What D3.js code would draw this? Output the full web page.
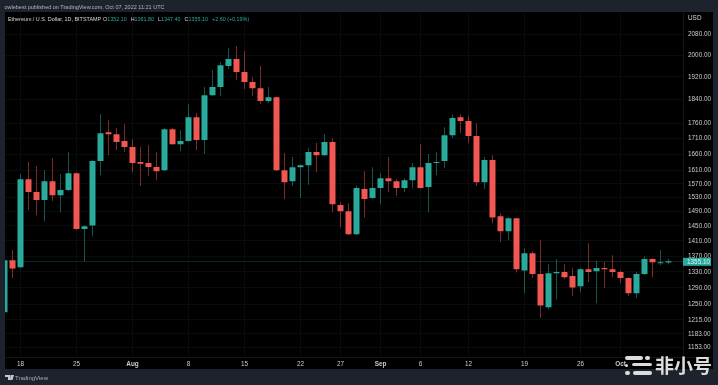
<!DOCTYPE html>
<html>
<head>
<meta charset="utf-8">
<script src="https://cdn.jsdelivr.net/npm/d3@7"></script>
<style>
  html, body { margin: 0; padding: 0; background: #1e222d; }
  svg { display: block; filter: blur(0.3px); }
  text { font-family: "Liberation Sans", sans-serif; }
</style>
</head>
<body>
<script>
// one entry per day, starting 16 Jul 2022
var startDay = Date.UTC(2022, 6, 16);
var opens = [1231,1358,1340,1582,1544,1521,1576,1535,1550,1600,1440,1450,1637,1728,1722,1700,
  1681,1634,1631,1619,1609,1738,1690,1700,1778,1703,1853,1882,1958,1984,1936,1900,1878,1833,1846,1609,1576,1618,1624,1665,1655,1697,1507,1489,1426,1553,1527,
  1556,1585,1576,1556,1579,1618,1559,1631,1637,1719,1778,1765,1716,1573,1640,1475,1434,1470,1332,1376,1323,1243,1325,1328,1318,1293,1335,1330,1338,1335,
  1328,1313,1276,1323,1361,1350,1352.1];
var highs = [1360,1384,1597,1634,1621,1609,1646,1597,1665,1603,1450,1640,1788,1768,1742,1755,
  1706,1681,1687,1665,1742,1742,1735,1822,1792,1882,1943,1972,2026,2033,2014,1918,1958,1882,1848,1662,1649,1627,1677,1694,1722,1709,1515,1512,1562,1606,1618,
  1600,1649,1582,1585,1631,1690,1659,1665,1745,1788,1788,1782,1758,1649,1655,1484,1472,1470,1389,1381,1410,1348,1361,1348,1338,1338,1402,1356,1353,1371,
  1332,1315,1328,1368,1363,1384,1361.8];
var lows = [1229,1313,1338,1492,1478,1461,1518,1486,1548,1438,1355,1421,1594,1655,1671,1665,
  1603,1562,1591,1579,1607,1688,1668,1698,1671,1659,1851,1850,1947,1907,1875,1850,1822,1826,1607,1524,1562,1527,1565,1603,1653,1486,1445,1424,1424,1472,1525,
  1509,1544,1533,1544,1556,1554,1486,1594,1615,1710,1725,1694,1562,1553,1456,1405,1410,1327,1276,1313,1218,1238,1261,1310,1269,1278,1303,1252,1288,1315,
  1300,1269,1264,1321,1315,1345,1347.4];
var closes = [1358,1337,1582,1544,1521,1576,1535,1550,1600,1440,1448,1637,1725,1722,1697,1681,
  1631,1629,1619,1606,1738,1690,1700,1778,1703,1853,1882,1961,1984,1936,1900,1878,1833,1846,1609,1573,1618,1624,1665,1655,1697,1509,1489,1426,1556,1524,1556,
  1585,1576,1556,1579,1618,1556,1631,1634,1719,1775,1765,1716,1573,1640,1472,1434,1470,1335,1376,1323,1247,1325,1328,1315,1290,1335,1328,1338,1335,1328,
  1313,1276,1323,1361,1353,1353,1355.1];

var priceTicks = [2080,2000,1920,1840,1760,1710,1660,1610,1570,1530,1490,1450,1410,1370,1330,1290,1250,1215,1183,1153];
var dateTicks = ["2022-07-18","2022-07-25","2022-08-01","2022-08-08","2022-08-15","2022-08-22","2022-08-27","2022-09-01","2022-09-06","2022-09-12","2022-09-19","2022-09-26","2022-10-01"];
var dateLabels = ["18","25","Aug","8","15","22","27","Sep","6","12","19","26","Oct"];
var headerValues = [["O","1352.10"],["H","1361.80"],["L","1347.40"],["C","1355.10"]];
var lastPrice = 1355.10;

var up = "#28ab9c", down = "#f25752";

function init() {
    var svg = d3.select("body").append("svg").attr("width", 718).attr("height", 385);

    var x = d3.scaleUtc()
        .domain([new Date("2022-07-18"), new Date("2022-10-07")])
        .range([20, 668]);
    var y = d3.scaleLog()
        .domain([2080, 1153])
        .range([34, 347]);

    function dayX(i) { return x(new Date(startDay + i * 864e5)); }

    svg.append("rect").attr("width", 718).attr("height", 385).attr("fill", "#1e222d");
    svg.append("rect").attr("x", 5).attr("y", 12).attr("width", 708).attr("height", 357).attr("fill", "#000");
    svg.append("clipPath").attr("id", "plot").append("rect")
        .attr("x", 5).attr("y", 12).attr("width", 678).attr("height", 345);

    // grid
    svg.append("g").selectAll("line").data(priceTicks).enter().append("line")
        .attr("x1", 5).attr("x2", 683)
        .attr("y1", function(d) { return Math.round(y(d)) + 0.5; })
        .attr("y2", function(d) { return Math.round(y(d)) + 0.5; })
        .attr("stroke", "#0a0b0d");
    svg.append("g").selectAll("line").data(dateTicks).enter().append("line")
        .attr("x1", function(d) { return x(new Date(d)) + 0.5; })
        .attr("x2", function(d) { return x(new Date(d)) + 0.5; })
        .attr("y1", 12).attr("y2", 357)
        .attr("stroke", "#0a0b0d");

    // axis separators
    svg.append("line").attr("x1", 683.5).attr("x2", 683.5).attr("y1", 12).attr("y2", 369).attr("stroke", "#131519");
    svg.append("line").attr("x1", 5).attr("x2", 713).attr("y1", 357.5).attr("y2", 357.5).attr("stroke", "#131519");

    // last price line
    svg.append("line").attr("x1", 5).attr("x2", 683)
        .attr("y1", Math.round(y(lastPrice)) + 0.5).attr("y2", Math.round(y(lastPrice)) + 0.5)
        .attr("stroke", up).attr("stroke-opacity", 0.22);

    // candles
    var candles = svg.append("g").attr("clip-path", "url(#plot)")
        .selectAll("g").data(opens).enter().append("g")
        .attr("fill", function(d, i) { return closes[i] >= d ? up : down; })
        .attr("stroke", function(d, i) { return closes[i] >= d ? up : down; });
    candles.append("line")
        .attr("x1", function(d, i) { return dayX(i) + 0.5; })
        .attr("x2", function(d, i) { return dayX(i) + 0.5; })
        .attr("y1", function(d, i) { return y(highs[i]); })
        .attr("y2", function(d, i) { return y(lows[i]); })
        .attr("stroke-opacity", 0.5);
    candles.append("rect")
        .attr("x", function(d, i) { return dayX(i) - 2.5; })
        .attr("width", 6)
        .attr("y", function(d, i) { return y(Math.max(d, closes[i])); })
        .attr("height", function(d, i) { return Math.max(1, Math.abs(y(d) - y(closes[i]))); })
        .attr("rx", 0.5)
        .attr("stroke", "none");

    // price axis
    svg.append("g").selectAll("text").data(priceTicks).enter().append("text")
        .attr("x", 688)
        .attr("y", function(d) { return y(d) + 2.3; })
        .attr("font-size", 6.4)
        .attr("fill", "#c9cbd0")
        .text(function(d) { return d3.format(".2f")(d); });
    svg.append("text").attr("x", 688).attr("y", 20).attr("font-size", 6.4).attr("fill", "#d4d6da").text("USD");

    // last price label
    svg.append("rect").attr("x", 683).attr("y", y(lastPrice) - 3.5).attr("width", 28).attr("height", 8).attr("fill", up);
    svg.append("text").attr("x", 687).attr("y", y(lastPrice) + 2.8).attr("font-size", 6.4).attr("fill", "#d8efec").text(d3.format(".2f")(lastPrice));

    // time axis
    svg.append("g").selectAll("text").data(dateTicks).enter().append("text")
        .attr("x", function(d) { return x(new Date(d)) + 0.5; })
        .attr("y", 366)
        .attr("text-anchor", "middle")
        .attr("font-size", 6.4)
        .attr("font-weight", function(d, i) { return isNaN(+dateLabels[i]) ? "bold" : "normal"; })
        .attr("fill", "#c9cbd0")
        .text(function(d, i) { return dateLabels[i]; });

    // header lines
    svg.append("text").attr("x", 4.5).attr("y", 9).attr("font-size", 5.5).attr("fill", "#b4b7be")
        .text("owlebest published on TradingView.com, Oct 07, 2022 11:21 UTC");
    svg.append("text").attr("x", 8).attr("y", 21).attr("font-size", 5.4).attr("fill", "#d6d8dc")
        .text("Ethereum / U.S. Dollar, 1D, BITSTAMP");
    var head = svg.append("text").attr("x", 103).attr("y", 21).attr("font-size", 5.4).attr("fill", "#d6d8dc");
    headerValues.forEach(function(v, i) {
        head.append("tspan").attr("dx", i ? 4 : 0).attr("fill", "#d6d8dc").text(v[0]);
        head.append("tspan").attr("fill", up).text(v[1]);
    });
    head.append("tspan").attr("dx", 4).attr("fill", up).text("+2.60 (+0.19%)");

    // footer logo
    svg.append("path").attr("d", "M5 375h5v5h-2v-3h-3z M10.5 375h2l-1.5 5h-1z M12 375h2l-1.5 5h-1.5z").attr("fill", "#c4c7cd");
    svg.append("text").attr("x", 15).attr("y", 379.5).attr("font-size", 6).attr("fill", "#a9acb3").text("TradingView");

    // watermark
    var mark = svg.append("g").attr("fill", "#dcdcdc");
    [[625, 356, 18, 4], [645, 356, 5, 4], [625, 364, 3, 3], [632, 363, 20, 3], [625, 371, 5, 4], [633, 371, 19, 4]].forEach(function(r) {
        mark.append("rect").attr("x", r[0]).attr("y", r[1]).attr("width", r[2]).attr("height", r[3]).attr("rx", 2);
    });
    svg.append("text").attr("x", 655).attr("y", 373).attr("font-size", 19).attr("font-weight", "bold")
        .style("font-family", "'Noto Sans CJK SC'").attr("fill", "#dcdcdc").text("非小号");
}

window.onload = init;
</script>
</body>
</html>
